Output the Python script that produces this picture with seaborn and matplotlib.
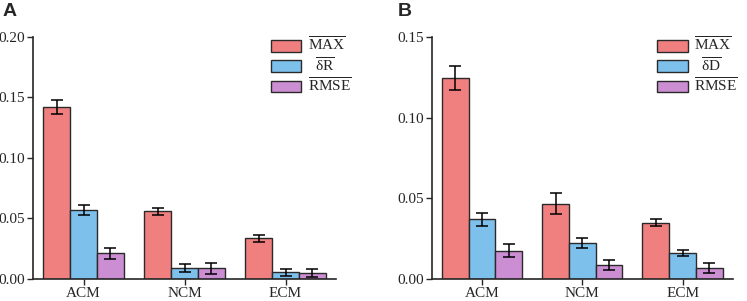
import matplotlib
matplotlib.use("Agg")
import numpy as np
import pandas as pd
import matplotlib.pyplot as plt
import seaborn as sns

models = ["ACM", "NCM", "ECM"]

# panel A (mean, error)
a_max = [0.142, 0.056, 0.0335]
a_max_err = [0.006, 0.003, 0.003]
a_dr = [0.057, 0.009, 0.0055]
a_dr_err = [0.0043, 0.0036, 0.003]
a_rmse = [0.0212, 0.009, 0.005]
a_rmse_err = [0.0043, 0.0045, 0.003]

# panel B (mean, error)
b_max = [0.1245, 0.0466, 0.035]
b_max_err = [0.0073, 0.0064, 0.0023]
b_dd = [0.0369, 0.0225, 0.0161]
b_dd_err = [0.004, 0.003, 0.0017]
b_rmse = [0.0175, 0.0087, 0.007]
b_rmse_err = [0.0041, 0.0033, 0.0032]

labels_a = [r"$\overline{\mathrm{MAX}}$", r"$\ \ \overline{\mathrm{δR}}$", r"$\overline{\mathrm{RMSE}}$"]
labels_b = [r"$\overline{\mathrm{MAX}}$", r"$\ \ \overline{\mathrm{δD}}$", r"$\overline{\mathrm{RMSE}}$"]
colors = ["#F08080", "#7DC0EC", "#CC8ED2"]

sns.set_style("ticks")
plt.rcParams["font.family"] = ["Liberation Serif", "DejaVu Serif"]
plt.rcParams["mathtext.fontset"] = "custom"
plt.rcParams["mathtext.rm"] = "Liberation Serif"
plt.rcParams["mathtext.it"] = "Liberation Serif:italic"
plt.rcParams["mathtext.bf"] = "Liberation Serif:bold"


def draw(ax, series, errs, labels, ymax, step, leg_x):
    df = pd.DataFrame({
        "model": models * 3,
        "metric": np.repeat(labels, 3),
        "value": np.concatenate(series),
    })
    sns.barplot(data=df, x="model", y="value", hue="metric", order=models,
                hue_order=labels, palette=colors, saturation=1, errorbar=None,
                width=0.8, edgecolor="#2a2a2a", linewidth=1.0, ax=ax)
    for cont, e in zip(ax.containers, errs):
        xs = [b.get_x() + b.get_width() / 2 for b in cont]
        ys = [b.get_height() for b in cont]
        ax.errorbar(xs, ys, yerr=e, fmt="none", ecolor="black",
                    elinewidth=1.1, capsize=4.5, capthick=1.1)
    ax.set_xlim(-0.5, 2.5)
    ax.set_ylim(0, ymax)
    ax.set_yticks(np.arange(0, ymax + 1e-9, step))
    ax.yaxis.set_major_formatter(plt.FormatStrFormatter("%.2f"))
    ax.set_xlabel("")
    ax.set_ylabel("")
    sns.despine(ax=ax)
    for s in ["left", "bottom"]:
        ax.spines[s].set_linewidth(1.2)
    ax.tick_params(axis="both", labelsize=11, length=4, width=1.0, pad=1.5)
    h, l = ax.get_legend_handles_labels()
    ax.legend(h, l, loc="upper right", bbox_to_anchor=(leg_x, 1.03), frameon=False,
              fontsize=11, handlelength=2.0, handleheight=0.8,
              labelspacing=0.15, handletextpad=0.4, borderaxespad=0)


fig = plt.figure(figsize=(7.47, 3.01), dpi=100)
ax1 = fig.add_axes([0.0442, 0.0731, 0.4056, 0.804])
ax2 = fig.add_axes([0.578, 0.0731, 0.403, 0.804])

draw(ax1, [a_max, a_dr, a_rmse], [a_max_err, a_dr_err, a_rmse_err], labels_a, 0.20, 0.05, 1.07)
draw(ax2, [b_max, b_dd, b_rmse], [b_max_err, b_dd_err, b_rmse_err], labels_b, 0.15, 0.05, 1.035)

fig.text(0.004, 0.99, "A", fontsize=14, fontweight="bold", family="Liberation Sans", va="top")
fig.text(0.532, 0.99, "B", fontsize=14, fontweight="bold", family="Liberation Sans", va="top")

fig.savefig("out.png", dpi=100)
